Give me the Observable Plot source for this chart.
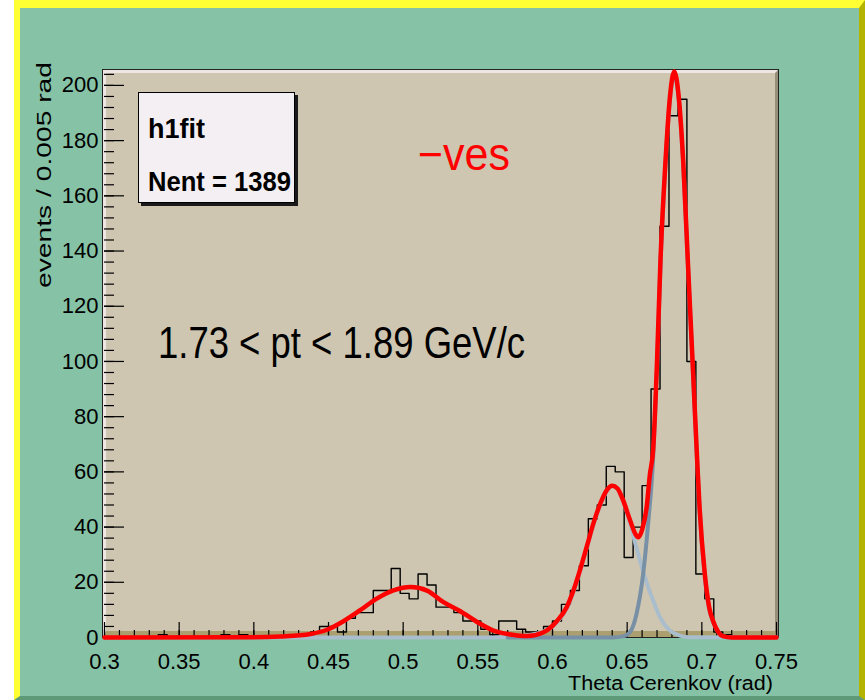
<!DOCTYPE html>
<html>
<head>
<meta charset="utf-8">
<script src="https://cdn.jsdelivr.net/npm/d3@7"></script>
<script src="https://cdn.jsdelivr.net/npm/@observablehq/plot@0.6"></script>
<style>
  html, body { margin: 0; padding: 0; background: #ffffff; }
  #root { position: relative; width: 865px; height: 700px; overflow: hidden; background: #ffffff; }
  #canvas { position: absolute; left: 14px; top: 0; width: 851px; height: 700px; box-sizing: border-box;
    background: #86c2a6; border-left: 6px solid #ffff33; border-top: 8px solid #ffff33;
    border-right: 6px solid #b4b400; border-bottom: 4px solid #5f9a78; }
  #frame { position: absolute; left: 103px; top: 70px; width: 675px; height: 567px; box-sizing: border-box;
    background: #cec6b0; border-top: 3px solid #eee6e2; border-left: 3px solid #eee6e2;
    border-right: 3px solid #978f7a; border-bottom: 6px solid #ab9f70; outline: 1px solid #222; }
  #plot { position: absolute; left: 0; top: 0; }
  #plot svg { overflow: visible; }
  #stats { position: absolute; left: 138px; top: 92px; width: 157px; height: 111px; box-sizing: border-box;
    background: #f4eff3; border: 1px solid #000; box-shadow: 3px 3px 0 #1a1a1a; }
  #over { position: absolute; left: 0; top: 0; pointer-events: none; }
</style>
</head>
<body>
<div id="root">
  <div id="canvas"></div>
  <div id="frame"></div>
  <div id="plot"></div>
  <div id="stats"></div>
  <svg id="over" width="865" height="700"></svg>
</div>
<script>
// ---- Histogram (bin width 0.006 rad, 0.30 to 0.75) ----
const binLow = 0.3;
const binWidth = 0.006;
const counts = [
  0, 0, 0, 0, 0, 0, 1, 0, 0, 0,
  0, 0, 0, 1, 0, 1, 0, 0, 0, 0,
  0, 0, 1, 2, 4, 4, 2, 7, 9, 9,
  17, 17, 25, 16, 14, 23, 19, 11, 11, 9,
  6, 6, 3, 1, 6, 6, 3, 2, 2, 4,
  6, 12, 17, 26, 43, 48, 62, 60, 29, 40,
  55, 90, 149, 189, 195, 100, 23, 14, 2, 1,
  0, 0, 0, 0, 0
];

// ---- Total fit (red) ----
const fitX = [0.30, 0.40, 0.418, 0.438, 0.449, 0.460, 0.471, 0.482, 0.494, 0.505, 0.516, 0.527, 0.538, 0.549, 0.560, 0.572, 0.583, 0.594, 0.603, 0.6095, 0.614, 0.619, 0.623, 0.6275, 0.632, 0.6365, 0.640, 0.6435, 0.6465, 0.652, 0.6555, 0.6575, 0.660, 0.663, 0.6652, 0.6674, 0.670, 0.6723, 0.6757, 0.6785, 0.6815, 0.6845, 0.6875, 0.6906, 0.6938, 0.6969, 0.6985, 0.702, 0.7049, 0.7076, 0.711, 0.714, 0.720, 0.750];
const fitY = [0.0, 0.1, 0.4, 1.3, 2.8, 5.9, 9.8, 14.0, 17.2, 18.3, 17.0, 12.8, 9.6, 5.8, 2.6, 1.1, 0.5, 1.9, 6.0, 11.0, 17.0, 25.5, 33.0, 41.5, 48.5, 53.5, 55, 54, 50.8, 42.4, 37.5, 36.3, 39, 47, 59, 68, 100, 136.6, 172.8, 195, 205, 196, 172.8, 136.6, 100, 64, 47, 23, 11, 5.9, 2, 0.5, 0, 0];

// ---- Kaon component (light grey-blue) ----
const kaonX = [0.40, 0.55, 0.57, 0.59, 0.603, 0.6095, 0.614, 0.619, 0.623, 0.6275, 0.632, 0.6365, 0.640, 0.6435, 0.6465, 0.652, 0.6555, 0.6585, 0.663, 0.6674, 0.6719, 0.6786, 0.6853, 0.692, 0.75];
const kaonY = [0, 0, 0.2, 1.5, 5.5, 10.5, 16.5, 25, 32.5, 41, 48, 53, 55, 54, 50.5, 41.5, 34, 28, 20, 13.4, 7.4, 2.5, 0.7, 0.1, 0];

// ---- Pion component (dark grey-blue) ----
const pionX = [0.57, 0.64, 0.648, 0.652, 0.6563, 0.6607, 0.664, 0.6674, 0.670, 0.6723, 0.6757, 0.6785, 0.6815, 0.6845, 0.6875, 0.6906, 0.6938, 0.6969, 0.6985, 0.702, 0.7049, 0.7076, 0.711, 0.714, 0.720, 0.75];
const pionY = [0, 0, 0.5, 2, 8.6, 23, 41, 65, 98, 135, 172, 194, 204, 195, 172, 136, 99, 63, 46, 22, 10.5, 5.5, 2, 0.5, 0, 0];

// ---- Axes ----
const xTicks = [0.3, 0.35, 0.4, 0.45, 0.5, 0.55, 0.6, 0.65, 0.7, 0.75];
const xTickLabels = ["0.3", "0.35", "0.4", "0.45", "0.5", "0.55", "0.6", "0.65", "0.7", "0.75"];
const yTicks = [0, 20, 40, 60, 80, 100, 120, 140, 160, 180, 200];
const yTickLabels = ["0", "20", "40", "60", "80", "100", "120", "140", "160", "180", "200"];
const xMinorStep = 0.01;
const yMinorStep = 4;

const xTitle = "Theta Cerenkov (rad)";
const yTitle = "events / 0.005 rad";
const statsName = "h1fit";
const statsEntries = "Nent = 1389";
const chargeLabel = "\u2212ves";
const ptLabel = "1.73 < pt < 1.89 GeV/c";

// tables
const histPts = counts.map((c, i) => ({x: binLow + i * binWidth, y: c}));
histPts.push({x: binLow + counts.length * binWidth, y: counts[counts.length - 1]});
const fit = fitX.map((x, i) => ({x, y: fitY[i]}));
const kaon = kaonX.map((x, i) => ({x, y: kaonY[i]}));
const pion = pionX.map((x, i) => ({x, y: pionY[i]}));
const xMinor = d3.range(0, 46).map(i => +(0.3 + i * xMinorStep).toFixed(3));
const yMinor = d3.range(0, 52).map(i => i * yMinorStep);

const W = 865, H = 700, mL = 104, mR = 89, mT = 70, mB = 63;
const frameW = W - mL - mR, frameH = H - mT - mB;
const tickFont = "'Liberation Sans Narrow', 'Liberation Sans', sans-serif";

const chart = Plot.plot({
  width: W, height: H,
  marginLeft: mL, marginRight: mR, marginTop: mT, marginBottom: mB,
  x: {domain: [0.3, 0.75]},
  y: {domain: [0, 205.4]},
  style: {background: "transparent", fontFamily: tickFont, fontSize: "22px", color: "#000"},
  marks: [
    Plot.tickX(xMinor, {x: d => d, stroke: "#000", strokeWidth: 1.2, insetTop: frameH - 7}),
    Plot.tickX(xTicks, {x: d => d, stroke: "#000", strokeWidth: 1.2, insetTop: frameH - 15}),
    Plot.tickY(yMinor, {y: d => d, stroke: "#000", strokeWidth: 1.2, insetRight: frameW - 10}),
    Plot.tickY(yTicks, {y: d => d, stroke: "#000", strokeWidth: 1.2, insetRight: frameW - 20}),
    Plot.axisX(xTicks, {tickSize: 0, tickPadding: 16, tickFormat: d => xTickLabels[xTicks.indexOf(d)], fontSize: 22, fontFamily: tickFont, label: null}),
    Plot.axisY(yTicks, {tickSize: 0, tickPadding: 6, tickFormat: d => yTickLabels[yTicks.indexOf(d)], fontSize: 22, fontFamily: tickFont, label: null}),
    Plot.line(histPts, {x: "x", y: "y", curve: "step-after", stroke: "#000", strokeWidth: 1.4}),
    Plot.line(kaon, {x: "x", y: "y", curve: "monotone-x", stroke: "#a9bdcc", strokeWidth: 4}),
    Plot.line(pion, {x: "x", y: "y", curve: "monotone-x", stroke: "#7890a6", strokeWidth: 4}),
    Plot.line(fit, {x: "x", y: "y", curve: "monotone-x", stroke: "#ff0000", strokeWidth: 4.5})
  ]
});
document.getElementById("plot").appendChild(chart);

// ---- Text annotations ----
const over = d3.select("#over");
function label(txt, x, y, size, len, opts = {}) {
  const t = over.append("text")
    .attr("x", x).attr("y", y)
    .attr("font-family", opts.family || "'Liberation Sans Narrow', 'Liberation Sans', sans-serif")
    .attr("font-size", size)
    .attr("font-weight", opts.weight || "normal")
    .attr("fill", opts.fill || "#000")
    .attr("textLength", len)
    .attr("lengthAdjust", "spacingAndGlyphs")
    .text(txt);
  if (opts.transform) t.attr("transform", opts.transform);
  return t;
}
label(statsName, 148, 138, 27, 57, {weight: "bold"});
label(statsEntries, 148, 191, 27, 143, {weight: "bold"});
label(chargeLabel, 418, 170, 46, 92, {fill: "#ff0000"});
label(ptLabel, 158, 358, 44, 367);
label(xTitle, 568, 690, 20, 205, {family: "'Liberation Sans', sans-serif"});
over.append("text")
  .attr("transform", "translate(51,288) rotate(-90)")
  .attr("font-family", "'Liberation Sans', sans-serif")
  .attr("font-size", 21)
  .attr("textLength", 226)
  .attr("lengthAdjust", "spacingAndGlyphs")
  .text(yTitle);
</script>
</body>
</html>
